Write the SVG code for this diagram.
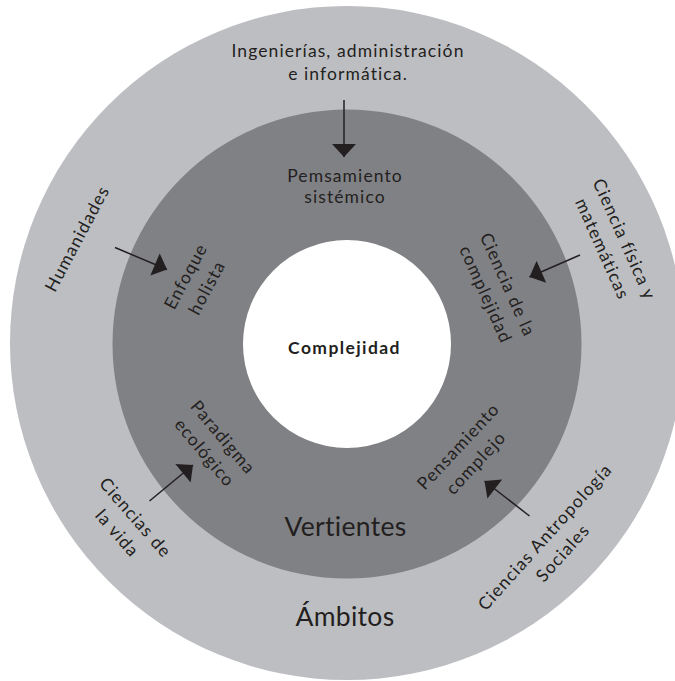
<svg xmlns="http://www.w3.org/2000/svg" width="675" height="681" viewBox="0 0 675 681">
<defs>
<style>
.t{font-family:Lato,"Noto Sans","Liberation Sans",sans-serif;font-size:17.5px;fill:#231f20;text-anchor:middle;letter-spacing:1.1px}
.big{font-size:26.5px;letter-spacing:0.3px}
.c{font-weight:700;font-size:17.5px;letter-spacing:1.4px}
.arr{stroke:#231f20;stroke-width:1.5;fill:none;marker-end:url(#ah)}
</style>
<marker id="ah" markerUnits="userSpaceOnUse" markerWidth="14" markerHeight="24" refX="13" refY="12" orient="auto" viewBox="0 0 13 24">
<path d="M0,0 L13,12 L0,24 Z" fill="#231f20"/>
</marker>
</defs>
<rect width="675" height="681" fill="#ffffff"/>
<g id="ambitos">
<circle cx="347" cy="343" r="337" fill="#bdbec2"/>
<text class="t big" x="345" y="625.5">Ámbitos</text>
</g>
<g id="vertientes">
<circle cx="347" cy="344" r="234.5" fill="#808185"/>
<text class="t big" x="345.5" y="535.5">Vertientes</text>
</g>
<g id="complejidad">
<circle cx="347" cy="344" r="104" fill="#ffffff"/>
<text class="t c" x="344.5" y="354">Complejidad</text>
</g>
<g id="ingenierias">
<text class="t" x="348" y="56.5">Ingenierías, administración</text>
<text class="t" x="348" y="80">e informática.</text>
</g>
<g id="pensamiento-sistemico">
<text class="t" x="345" y="181.5">Pemsamiento</text>
<text class="t" x="345" y="203">sistémico</text>
</g>
<g id="humanidades">
<text class="t" transform="translate(82.5,241.5) rotate(-62)">Humanidades</text>
</g>
<g id="enfoque-holista" transform="translate(196.3,282) rotate(-62)">
<text class="t" x="0" y="-6">Enfoque</text>
<text class="t" x="0" y="18">holista</text>
</g>
<g id="ciencia-fisica" transform="translate(613.4,244) rotate(66)">
<text class="t" x="0" y="-6">Ciencia física y</text>
<text class="t" x="0" y="18">matemáticas</text>
</g>
<g id="ciencia-complejidad" transform="translate(496.7,289.6) rotate(66)">
<text class="t" x="0" y="-6">Ciencia de la</text>
<text class="t" x="0" y="18">complejidad</text>
</g>
<g id="paradigma-ecologico" transform="translate(213.8,445) rotate(50)">
<text class="t" x="0" y="-6">Paradigma</text>
<text class="t" x="0" y="18">ecológico</text>
</g>
<g id="ciencias-vida" transform="translate(126.3,525.4) rotate(49)">
<text class="t" x="0" y="-6">Ciencias de</text>
<text class="t" x="0" y="18">la vida</text>
</g>
<g id="pensamiento-complejo" transform="translate(467.1,454.6) rotate(-47)">
<text class="t" x="0" y="-6">Pensamiento</text>
<text class="t" x="0" y="18">complejo</text>
</g>
<g id="ciencias-sociales" transform="translate(553.8,545) rotate(-48)">
<text class="t" x="0" y="-6">Ciencias Antropología</text>
<text class="t" x="0" y="18">Sociales</text>
</g>
<g id="connectors">
<line class="arr" x1="344" y1="100" x2="344" y2="157"/>
<line class="arr" x1="115" y1="247.5" x2="167" y2="269.5"/>
<line class="arr" x1="580" y1="255" x2="529.5" y2="277"/>
<line class="arr" x1="149.5" y1="501" x2="193" y2="465"/>
<line class="arr" x1="529.5" y1="516" x2="484.5" y2="481"/>
</g>
</svg>
